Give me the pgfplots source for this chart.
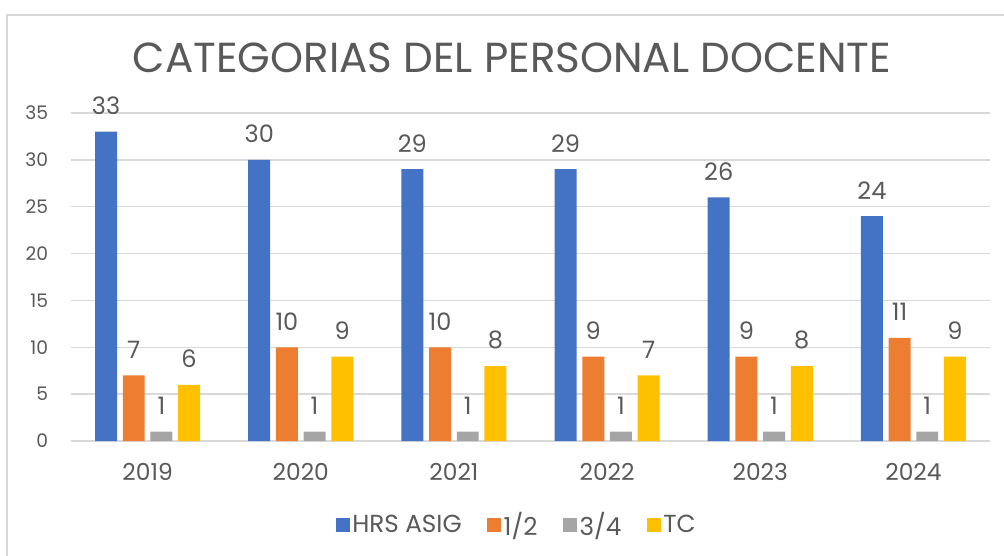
\documentclass[border=0pt]{standalone}
\usepackage{pgfplots}
\pgfplotsset{compat=1.18}
\usepackage{fontspec}
\setmainfont{Poppins}

\definecolor{txt}{HTML}{595959}
\definecolor{gridc}{HTML}{D9D9D9}
\definecolor{cHrs}{HTML}{4472C4}
\definecolor{cMed}{HTML}{ED7D31}
\definecolor{cTres}{HTML}{A5A5A5}
\definecolor{cTc}{HTML}{FFC000}

\begin{document}
\begin{tikzpicture}
\begin{scope}[x=0.75pt,y=-0.75pt]
\path[use as bounding box] (0,0) rectangle (1004,556);
\draw[gridc,line width=1.2pt] (7,15) rectangle (1030,600);
\node[txt,font=\fontsize{31.5}{36}\selectfont] at (512,58) {CATEGORIAS DEL PERSONAL DOCENTE};
\coordinate (O) at (71,441);
\end{scope}

\begin{axis}[
at={(O)}, anchor=south west,
scale only axis,
width=689.25pt, height=246pt,
xmin=-0.5, xmax=5.5,
ymin=0, ymax=35,
ytick={0,5,...,35},
xtick={0,...,5},
xticklabels={2019,2020,2021,2022,2023,2024},
axis line style={draw=none},
major tick length=0pt,
ymajorgrids,
grid style={gridc,line width=1.1pt},
yticklabel style={txt,font=\fontsize{14}{16}\selectfont,inner sep=0pt,anchor=east,xshift=-17pt},
xticklabel style={txt,font=\fontsize{17.5}{20}\selectfont,inner sep=0pt,anchor=north,yshift=-16.5pt},
/pgf/number format/assume math mode=true,
ybar, bar width=0.1436,
nodes near coords,
nodes near coords style={txt,font=\fontsize{18}{20}\selectfont,inner sep=0pt,anchor=south,yshift=12.5pt},
legend columns=-1,
legend style={at={(0.4853,-0.256)},anchor=center,draw=none,fill=none,
  font=\fontsize{18.5}{21}\selectfont,text=txt,
  /tikz/every even column/.append style={column sep=17pt}},
legend image code/.code={\fill[#1,draw=none] (0pt,-5.25pt) rectangle (10.5pt,5.25pt);},
clip=false,
]
\addplot[fill=cHrs,draw=none,bar shift=-0.271] coordinates {(0,33) (1,30) (2,29) (3,29) (4,26) (5,24)};
\addlegendentry{HRS ASIG}
\addplot[fill=cMed,draw=none,bar shift=-0.0903] coordinates {(0,7) (1,10) (2,10) (3,9) (4,9) (5,11)};
\addlegendentry{1/2}
\addplot[fill=cTres,draw=none,bar shift=0.0903] coordinates {(0,1) (1,1) (2,1) (3,1) (4,1) (5,1)};
\addlegendentry{3/4}
\addplot[fill=cTc,draw=none,bar shift=0.271] coordinates {(0,6) (1,9) (2,8) (3,7) (4,8) (5,9)};
\addlegendentry{TC}
\end{axis}
\end{tikzpicture}
\end{document}
